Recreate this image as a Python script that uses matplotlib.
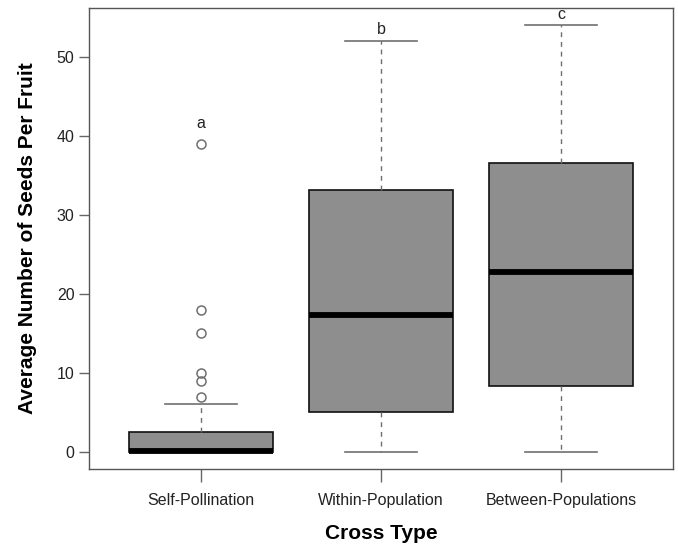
import matplotlib
matplotlib.use('Agg')
import matplotlib.pyplot as plt

plt.rcParams['font.family'] = ['Liberation Sans', 'DejaVu Sans']

# values
groups = ['Self-Pollination', 'Within-Population', 'Between-Populations']
q1 = [0.0, 5.0, 8.4]
med = [0.15, 17.35, 22.8]
q3 = [2.5, 33.1, 36.5]
wlo = [0.0, 0.0, 0.0]
whi = [6.0, 52.0, 54.0]
fliers = [[7, 9, 10, 15, 18, 39], [], []]
letters = ['a', 'b', 'c']
letter_y = [41.5, 53.4, 55.3]

stats = []
for i in range(len(groups)):
    stats.append(dict(label=groups[i], q1=q1[i], med=med[i], q3=q3[i],
                      whislo=wlo[i], whishi=whi[i], fliers=fliers[i]))

fig = plt.figure(figsize=(6.78, 5.5), dpi=100)
ax = fig.add_axes([0.1313, 0.1473, 0.8613, 0.8382])

grey = '#6f6f6f'
ax.bxp(stats, positions=[1, 2, 3], widths=0.8, patch_artist=True,
       boxprops=dict(facecolor='#8e8e8e', edgecolor='#111111', lw=1.2),
       medianprops=dict(color='black', lw=4.2, solid_capstyle='butt'),
       whiskerprops=dict(color=grey, lw=1.0, linestyle=(0, (3.5, 3.5))),
       capprops=dict(color=grey, lw=1.2),
       capwidths=0.4,
       flierprops=dict(marker='o', markerfacecolor='none', markeredgecolor=grey,
                       markersize=6.5, markeredgewidth=1.1))

for i, t in enumerate(letters):
    ax.text(i + 1, letter_y[i], t, ha='center', va='center', fontsize=11.5, color='#222222')

ax.set_xlim(0.38, 3.62)
ax.set_ylim(-2.16, 56.16)
ax.set_yticks([0, 10, 20, 30, 40, 50])
ax.tick_params(axis='both', labelsize=11.5, colors='#666666', labelcolor='#222222',
               length=7, width=1.0)
ax.tick_params(axis='x', length=9, pad=8)
for s in ax.spines.values():
    s.set_color('#555555')
    s.set_linewidth(1.0)

ax.set_ylabel('Average Number of Seeds Per Fruit', fontsize=15, fontweight='bold', labelpad=14)
ax.set_xlabel('Cross Type', fontsize=15, fontweight='bold', labelpad=12)

fig.savefig('out.png', dpi=100)
